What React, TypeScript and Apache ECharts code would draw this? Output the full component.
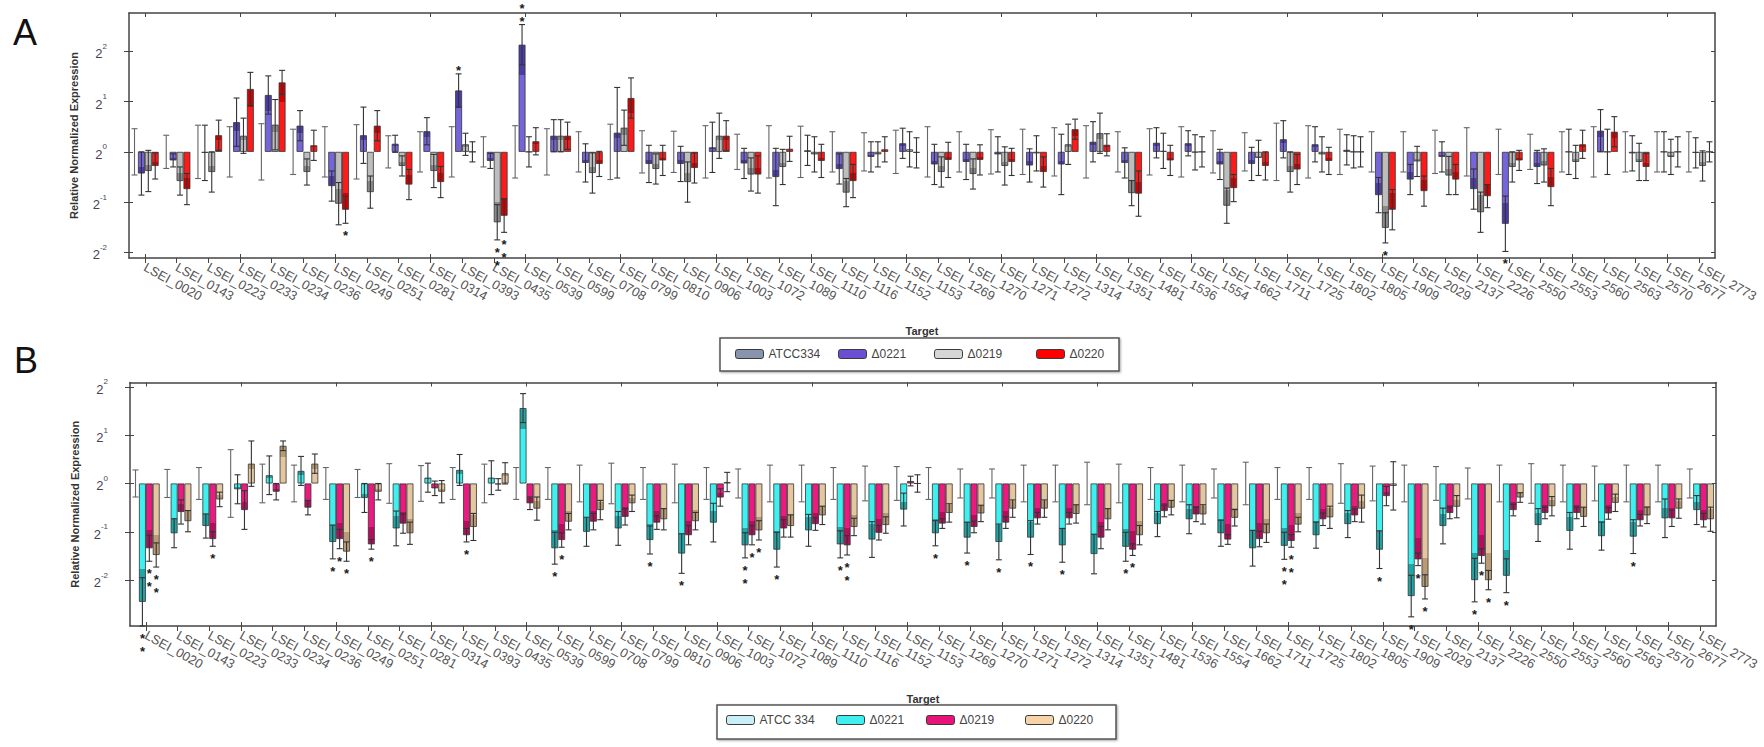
import { useEffect, useRef } from "react";
import * as echarts from "echarts";

const categories = [
  "LSEI_0020", "LSEI_0143", "LSEI_0223", "LSEI_0233", "LSEI_0234", "LSEI_0236", "LSEI_0249", "LSEI_0251", "LSEI_0281", "LSEI_0314",
  "LSEI_0393", "LSEI_0435", "LSEI_0539", "LSEI_0599", "LSEI_0708", "LSEI_0799", "LSEI_0810", "LSEI_0906", "LSEI_1003", "LSEI_1072",
  "LSEI_1089", "LSEI_1110", "LSEI_1116", "LSEI_1152", "LSEI_1153", "LSEI_1269", "LSEI_1270", "LSEI_1271", "LSEI_1272", "LSEI_1314",
  "LSEI_1351", "LSEI_1481", "LSEI_1536", "LSEI_1554", "LSEI_1662", "LSEI_1711", "LSEI_1725", "LSEI_1802", "LSEI_1805", "LSEI_1909",
  "LSEI_2029", "LSEI_2137", "LSEI_2226", "LSEI_2550", "LSEI_2553", "LSEI_2560", "LSEI_2563", "LSEI_2570", "LSEI_2677", "LSEI_2773",
];

const yTickValues = [-2, -1, 0, 1, 2];

// ---------- Panel A (log2 relative normalized expression) ----------
const namesA = ["ATCC334", "Δ0221", "Δ0219", "Δ0220"];
const aATCC334 = [
  0, 0, 0, 0, 0, 0, 0, 0, 0, 0, 0, 0, 0, 0, 0, 0, 0, 0, 0, 0, 0, 0, 0, 0, 0,
  0, 0, 0, 0, 0, 0, 0, 0, 0, 0, 0, 0, 0, 0, 0, 0, 0, 0, 0, 0, 0, 0, 0, 0, 0,
];
const aATCC334Err = [
  0.46, 0.33, 0.53, 0.5, 0.56, 0.45, 0.5, 0.54, 0.32, 0.4,
  0.5, 0.3, 0.52, 0.46, 0.4, 0.55, 0.42, 0.41, 0.52, 0.35,
  0.52, 0.51, 0.4, 0.38, 0.43, 0.5, 0.4, 0.44, 0.45, 0.48,
  0.52, 0.4, 0.46, 0.5, 0.42, 0.38, 0.57, 0.52, 0.45, 0.4,
  0.4, 0.43, 0.48, 0.45, 0.35, 0.4, 0.5, 0.4, 0.4, 0.4,
];
const aD0221 = [
  -0.43, -0.17, -0.02, 0.59, 1.13, 0.52, -0.68, 0.33, 0.16, 0.41,
  1.22, -0.18, 2.13, 0.32, -0.22, 0.38, -0.24, -0.24, 0.09, -0.23,
  -0.5, 0.03, -0.34, -0.1, 0.17, -0.25, -0.2, -0.05, -0.27, -0.25,
  0.2, -0.22, 0.18, 0.17, -0.25, -0.24, 0.25, 0.15, 0.04, -0.86,
  -0.55, -0.1, -0.74, -1.43, -0.3, 0, 0.42, -0.03, 0, -0.02,
];
const aD0221Err = [
  0.43, 0.13, 0.55, 0.48, 0.38, 0.3, 0.3, 0.56, 0.17, 0.27,
  0.33, 0.15, 0.4, 0.32, 0.38, 0.9, 0.37, 0.35, 0.5, 0.3,
  0.57, 0.3, 0.3, 0.3, 0.3, 0.4, 0.35, 0.35, 0.33, 0.6,
  0.4, 0.3, 0.3, 0.25, 0.3, 0.33, 0.37, 0.35, 0.3, 0.35,
  0.3, 0.3, 0.4, 0.55, 0.33, 0.45, 0.42, 0.35, 0.4, 0.3,
];
const aD0219 = [
  -0.38, -0.58, -0.4, 0.32, 0.54, -0.4, -1.03, -0.8, -0.28, -0.38,
  0.15, -1.4, 0, 0.32, -0.42, 0.48, -0.34, -0.6, 0.32, -0.45,
  -0.3, -0.05, -0.81, -0.05, 0.05, -0.4, -0.44, -0.28, -0.03, 0.15,
  0.37, -0.82, 0.02, -0.01, -1.07, -0.12, -0.4, -0.05, 0, -1.51,
  -0.19, -0.47, -1.2, -0.3, -0.27, -0.2, 0, -0.2, -0.1, -0.28,
];
const aD0219Err = [
  0.41, 0.28, 0.4, 0.35, 0.5, 0.26, 0.42, 0.32, 0.2, 0.33,
  0.22, 0.35, 0.3, 0.32, 0.4, 0.35, 0.3, 0.4, 0.45, 0.33,
  0.35, 0.35, 0.28, 0.25, 0.35, 0.3, 0.3, 0.38, 0.35, 0.4,
  0.4, 0.25, 0.35, 0.35, 0.35, 0.35, 0.4, 0.35, 0.32, 0.3,
  0.3, 0.38, 0.4, 0.3, 0.33, 0.33, 0.45, 0.37, 0.35, 0.3,
];
const aD0220 = [
  -0.28, -0.74, 0.33, 1.25, 1.38, 0.13, -1.15, 0.52, -0.65, -0.6,
  0, -1.27, 0.21, 0.32, -0.24, 1.07, -0.17, -0.32, 0.32, -0.45,
  0.06, -0.18, -0.58, 0.05, -0.02, -0.16, -0.16, -0.2, -0.4, 0.45,
  0.14, -0.83, -0.17, 0, -0.72, -0.28, -0.35, -0.18, 0, -1.15,
  -0.78, -0.55, -0.88, -0.17, -0.7, 0.15, 0.4, -0.3, 0, 0,
];
const aD0220Err = [
  0.26, 0.31, 0.3, 0.33, 0.24, 0.3, 0.27, 0.3, 0.3, 0.31,
  0.2, 0.33, 0.27, 0.27, 0.25, 0.4, 0.3, 0.3, 0.3, 0.37,
  0.25, 0.33, 0.33, 0.25, 0.3, 0.35, 0.3, 0.27, 0.3, 0.2,
  0.22, 0.45, 0.3, 0.3, 0.27, 0.28, 0.3, 0.27, 0.3, 0.4,
  0.3, 0.3, 0.23, 0.2, 0.37, 0.28, 0.3, 0.27, 0.3, 0.2,
];
// [category index, series slot, number of asterisks]
const starsA = [
  [6, 3, 1], [10, 1, 1], [11, 2, 2], [11, 3, 2], [12, 1, 2], [39, 2, 1], [43, 1, 1],
];

// ---------- Panel B ----------
const namesB = ["ATCC 334", "Δ0221", "Δ0219", "Δ0220"];
const bATCC334 = [
  0, 0, 0, 0, 0, 0, 0, 0, 0, 0, 0, 0, 0, 0, 0, 0, 0, 0, 0, 0, 0, 0, 0, 0, 0,
  0, 0, 0, 0, 0, 0, 0, 0, 0, 0, 0, 0, 0, 0, 0, 0, 0, 0, 0, 0, 0, 0, 0, 0, 0,
];
const bATCC334Err = [
  0.28, 0.29, 0.33, 0.7, 0.4, 0.38, 0.33, 0.29, 0.41, 0.37,
  0.33, 0.4, 0.33, 0.33, 0.38, 0.42, 0.33, 0.4, 0.33, 0.3,
  0.38, 0.38, 0.33, 0.36, 0.35, 0.33, 0.3, 0.3, 0.38, 0.38,
  0.44, 0.4, 0.33, 0.38, 0.3, 0.44, 0.33, 0.33, 0.41, 0.36,
  0.38, 0.35, 0.32, 0.38, 0.41, 0.38, 0.36, 0.38, 0.38, 0.3,
];
const bD0221 = [
  -2.45, -1.03, -0.88, -0.12, 0.17, 0.26, -1.21, -0.3, -0.93, 0.12,
  0.28, 0.12, 1.56, -1.34, -1.0, -0.93, -1.17, -1.45, -0.81, -1.28,
  -1.37, -0.97, -1.26, -1.16, -0.54, -1.03, -1.12, -1.21, -1.12, -1.28,
  -1.46, -1.31, -0.84, -0.74, -1.03, -1.34, -1.29, -1.07, -0.84, -1.37,
  -2.33, -0.88, -2.0, -1.91, -0.86, -0.98, -1.09, -1.1, -0.72, -0.55,
];
const bD0221Err = [
  0.5, 0.3, 0.25, 0.3, 0.4, 0.3, 0.35, 0.3, 0.36, 0.3,
  0.32, 0.35, 0.3, 0.33, 0.3, 0.35, 0.29, 0.41, 0.4, 0.26,
  0.36, 0.33, 0.28, 0.37, 0.34, 0.26, 0.32, 0.37, 0.35, 0.35,
  0.41, 0.3, 0.26, 0.3, 0.27, 0.37, 0.28, 0.27, 0.28, 0.39,
  0.43, 0.37, 0.45, 0.35, 0.34, 0.38, 0.29, 0.35, 0.4, 0.3,
];
const bD0219 = [
  -1.34, -0.59, -1.15, -0.55, -0.17, -0.5, -1.15, -1.26, -0.83, -0.1,
  -1.07, -0.02, -0.41, -1.17, -0.79, -0.69, -0.81, -1.07, -0.29, -1.07,
  -0.93, -0.84, -1.28, -1.02, 0.05, -0.83, -0.9, -0.81, -0.72, -0.72,
  -1.12, -1.37, -0.57, -0.64, -1.16, -1.15, -1.19, -0.74, -0.66, -0.26,
  -1.57, -0.61, -1.5, -0.55, -0.61, -0.61, -0.62, -0.76, -0.72, -0.76,
];
const bD0219Err = [
  0.27, 0.25, 0.15, 0.4, 0.17, 0.15, 0.2, 0.1, 0.2, 0.15,
  0.14, 0.12, 0.13, 0.15, 0.17, 0.17, 0.14, 0.2, 0.18, 0.2,
  0.18, 0.13, 0.2, 0.15, 0.1, 0.1, 0.12, 0.12, 0.12, 0.12,
  0.23, 0.12, 0.12, 0.15, 0.1, 0.16, 0.13, 0.13, 0.13, 0.2,
  0.13, 0.12, 0.15, 0.12, 0.12, 0.12, 0.12, 0.12, 0.17, 0.14,
];
const bD0220 = [
  -1.48, -0.78, -0.33, 0.41, 0.78, 0.41, -1.41, -0.17, -1.03, -0.17,
  -0.9, 0.21, -0.52, -0.79, -0.55, -0.41, -0.74, -0.78, 0.03, -0.97,
  -0.88, -0.66, -0.9, -0.86, 0, -0.61, -0.62, -0.52, -0.52, -0.63,
  -0.74, -1.07, -0.5, -0.64, -0.71, -1.03, -0.85, -0.7, -0.52, -0.05,
  -2.14, -0.48, -2.0, -0.29, -0.47, -0.69, -0.4, -0.66, -0.52, -0.74,
];
const bD0220Err = [
  0.25, 0.22, 0.15, 0.47, 0.1, 0.2, 0.2, 0.17, 0.23, 0.23,
  0.28, 0.22, 0.24, 0.17, 0.2, 0.17, 0.22, 0.18, 0.2, 0.2,
  0.23, 0.19, 0.18, 0.17, 0.18, 0.19, 0.17, 0.18, 0.18, 0.19,
  0.22, 0.2, 0.15, 0.2, 0.17, 0.19, 0.15, 0.23, 0.28, 0.5,
  0.25, 0.23, 0.2, 0.1, 0.2, 0.2, 0.18, 0.17, 0.2, 0.25,
];
const starsB = [
  [0, 1, 2], [0, 2, 2], [0, 3, 2], [2, 2, 1], [6, 1, 1], [6, 2, 1], [6, 3, 1], [7, 2, 1],
  [10, 2, 1], [13, 1, 1], [13, 2, 1], [16, 1, 1], [17, 1, 1], [19, 1, 2], [19, 2, 1], [19, 3, 1],
  [20, 1, 1], [22, 1, 1], [22, 2, 2], [25, 1, 1], [26, 1, 1], [27, 1, 1], [28, 1, 1], [29, 1, 1],
  [31, 1, 1], [31, 2, 1], [36, 1, 2], [36, 2, 2], [39, 1, 1], [40, 1, 1], [40, 2, 1], [40, 3, 1],
  [42, 1, 1], [42, 2, 1], [42, 3, 1], [43, 1, 1], [47, 1, 1],
];

// ---------- styling ----------
const FONT = "'Liberation Sans', Arial, Helvetica, sans-serif";
const BAR_W = 6.9;
const CAP = 3;
const DARK_FRAC = 0.28;
const STAR_SIZE = 13;

const panels = [
  {
    names: namesA,
    values: [aATCC334, aD0221, aD0219, aD0220],
    errs: [aATCC334Err, aD0221Err, aD0219Err, aD0220Err],
    legendColors: ["#8794ae", "#6a4fd2", "#d6d6d6", "#ff0000"],
    light: ["#8794ae", "#7565da", "#bdbdbd", "#ff1a1a"],
    dark: ["#8794ae", "#4b3cab", "#8a8a8a", "#d20000"],
    stars: starsA,
    grid: { left: 129, top: 13, width: 1586, height: 245 },
    yMin: -2.11,
    yMax: 2.76,
    legendLefts: [735, 838, 934, 1036],
    legendTop: 348,
    box: [720, 338, 399, 33],
  },
  {
    names: namesB,
    values: [bATCC334, bD0221, bD0219, bD0220],
    errs: [bATCC334Err, bD0221Err, bD0219Err, bD0220Err],
    legendColors: ["#c9eef7", "#40f0f0", "#e8127a", "#f7d3a8"],
    light: ["#c9eef7", "#3ff0f0", "#ec1a80", "#e4c6a0"],
    dark: ["#c9eef7", "#1fa6a6", "#b50d5e", "#b89a74"],
    stars: starsB,
    grid: { left: 130, top: 382.5, width: 1586, height: 243.5 },
    yMin: -2.95,
    yMax: 2.09,
    legendLefts: [726, 836, 926, 1025],
    legendTop: 714,
    box: [717, 705, 399, 34],
  },
];

function shaded(v: number, light: string, dark: string) {
  const f = DARK_FRAC;
  const colorStops =
    v >= 0
      ? [
          { offset: 0, color: dark },
          { offset: f, color: dark },
          { offset: f, color: light },
          { offset: 1, color: light },
        ]
      : [
          { offset: 0, color: light },
          { offset: 1 - f, color: light },
          { offset: 1 - f, color: dark },
          { offset: 1, color: dark },
        ];
  return { type: "linear", x: 0, y: 0, x2: 0, y2: 1, colorStops };
}

function buildOption() {
  const grid: any[] = [];
  const xAxis: any[] = [];
  const yAxis: any[] = [];
  const series: any[] = [];
  const legend: any[] = [];
  const graphic: any[] = [];
  const tickLine = { color: "#444", width: 1 };

  panels.forEach((p, pi) => {
    grid.push({ ...p.grid, containLabel: false });
    const axisLine = { show: true, onZero: false, lineStyle: { color: "#444", width: 1.5 } };
    // bottom axis: labels + outside ticks
    xAxis.push({
      type: "category",
      gridIndex: pi,
      data: categories,
      position: "bottom",
      axisLine,
      axisTick: { show: true, alignWithLabel: true, length: 5, lineStyle: tickLine },
      axisLabel: {
        interval: 0,
        rotate: -29,
        margin: 8,
        fontSize: 13,
        color: "#555",
        fontFamily: FONT,
      },
      name: "Target",
      nameLocation: "middle",
      nameGap: 67,
      nameTextStyle: { fontFamily: FONT, fontSize: 11, fontWeight: "bold", color: "#333" },
      splitLine: { show: false },
    });
    // top axis: inside ticks only
    xAxis.push({
      type: "category",
      gridIndex: pi,
      data: categories,
      position: "top",
      axisLine,
      axisTick: { show: true, inside: true, alignWithLabel: true, length: 4, lineStyle: tickLine },
      axisLabel: { show: false },
      splitLine: { show: false },
    });
    // bottom axis again: inside half of the crossing ticks
    xAxis.push({
      type: "category",
      gridIndex: pi,
      data: categories,
      position: "bottom",
      axisLine: { show: false, onZero: false },
      axisTick: { show: true, inside: true, alignWithLabel: true, length: 4, lineStyle: tickLine },
      axisLabel: { show: false },
      splitLine: { show: false },
    });

    yAxis.push({
      type: "value",
      gridIndex: pi,
      min: p.yMin,
      max: p.yMax,
      position: "left",
      axisLine: { show: true, lineStyle: { color: "#444", width: 1.5 } },
      axisTick: { show: true, length: 5, customValues: yTickValues, lineStyle: tickLine },
      axisLabel: {
        customValues: yTickValues,
        margin: 22,
        formatter: (v: number) => `{b|2}{s|${Math.round(v)}}`,
        rich: {
          b: { fontSize: 13, color: "#445", fontFamily: FONT, lineHeight: 18, verticalAlign: "bottom" },
          s: { fontSize: 8, color: "#445", fontFamily: FONT, lineHeight: 18, verticalAlign: "top" },
        },
      },
      splitLine: { show: false },
      name: "Relative Normalized Expression",
      nameLocation: "middle",
      nameGap: 50,
      nameRotate: 90,
      nameTextStyle: { fontFamily: FONT, fontSize: 11, fontWeight: "bold", color: "#333" },
    });
    yAxis.push({
      type: "value",
      gridIndex: pi,
      min: p.yMin,
      max: p.yMax,
      position: "right",
      axisLine: { show: true, lineStyle: { color: "#444", width: 1.5 } },
      axisTick: { show: true, inside: true, length: 4, customValues: yTickValues, lineStyle: tickLine },
      axisLabel: { show: false },
      splitLine: { show: false },
    });
    yAxis.push({
      type: "value",
      gridIndex: pi,
      min: p.yMin,
      max: p.yMax,
      position: "left",
      axisLine: { show: false },
      axisTick: { show: true, inside: true, length: 4, customValues: yTickValues, lineStyle: tickLine },
      axisLabel: { show: false },
      splitLine: { show: false },
    });

    const xi = pi * 3;
    const yi = pi * 3;
    p.names.forEach((name, s) => {
      series.push({
        type: "bar",
        name,
        xAxisIndex: xi,
        yAxisIndex: yi,
        barWidth: BAR_W,
        barGap: "0%",
        z: 2,
        emphasis: { disabled: true },
        itemStyle: {
          color: p.legendColors[s],
          borderColor: "#333",
          borderWidth: s === 0 ? 0 : 0.8,
        },
        data: p.values[s].map((v) => ({ value: v, itemStyle: { color: shaded(v, p.light[s], p.dark[s]) } })),
      });
    });

    const errRows: number[][] = [];
    p.values.forEach((vals, s) => {
      vals.forEach((v, i) => {
        errRows.push([i, v - p.errs[s][i], v + p.errs[s][i], s]);
      });
    });
    series.push({
      type: "custom",
      name: "err" + pi,
      xAxisIndex: xi,
      yAxisIndex: yi,
      z: 5,
      silent: true,
      encode: { x: 0, y: [1, 2] },
      data: errRows,
      renderItem: (_params: any, api: any) => {
        const cat = api.value(0);
        const lo = api.value(1);
        const hi = api.value(2);
        const s = api.value(3);
        const x = api.coord([cat, 0])[0] + (s - 1.5) * BAR_W;
        const y1 = api.coord([cat, lo])[1];
        const y2 = api.coord([cat, hi])[1];
        const style = { stroke: s === 0 ? "#666" : "#333", lineWidth: 1.1 };
        return {
          type: "group",
          children: [
            { type: "line", shape: { x1: x, y1, x2: x, y2 }, style },
            { type: "line", shape: { x1: x - CAP, y1, x2: x + CAP, y2: y1 }, style },
            { type: "line", shape: { x1: x - CAP, y1: y2, x2: x + CAP, y2 }, style },
          ],
        };
      },
    });

    // one row per asterisk; k is its position in the stack
    const starRows: number[][] = [];
    p.stars.forEach(([cat, s, n]) => {
      const v = p.values[s][cat];
      const dir = v < 0 ? -1 : 1;
      for (let k = 0; k < n; k++) {
        starRows.push([cat, v + dir * p.errs[s][cat], s, k, dir]);
      }
    });
    series.push({
      type: "custom",
      name: "stars" + pi,
      xAxisIndex: xi,
      yAxisIndex: yi,
      z: 6,
      silent: true,
      clip: false,
      encode: { x: 0, y: 1 },
      data: starRows,
      renderItem: (_params: any, api: any) => {
        const cat = api.value(0);
        const anchor = api.value(1);
        const s = api.value(2);
        const k = api.value(3);
        const dir = api.value(4);
        const x = api.coord([cat, 0])[0] + (s - 1.5) * BAR_W;
        const y0 = api.coord([cat, anchor])[1];
        const y = dir < 0 ? y0 + 6 + k * STAR_SIZE : y0 + 3 - k * STAR_SIZE;
        return {
          type: "text",
          x,
          y,
          style: {
            text: "*",
            fill: "#1a1a1a",
            font: `bold ${STAR_SIZE}px ${FONT}`,
            align: "center",
            verticalAlign: dir < 0 ? "top" : "bottom",
          },
        };
      },
    });

    p.names.forEach((name, s) => {
      legend.push({
        left: p.legendLefts[s],
        top: p.legendTop,
        padding: 0,
        itemGap: 0,
        icon: "roundRect",
        itemWidth: 28,
        itemHeight: 9,
        selectedMode: false,
        textStyle: { fontFamily: FONT, fontSize: 12, color: "#444" },
        data: [
          {
            name,
            itemStyle: { color: p.legendColors[s], borderColor: "#3a3a3a", borderWidth: 1 },
          },
        ],
      });
    });

    const [bx, by, bw, bh] = p.box;
    graphic.push({
      type: "rect",
      z: 0,
      shape: { x: bx, y: by, width: bw, height: bh },
      style: {
        fill: "#fff",
        stroke: "#555",
        lineWidth: 1.5,
        shadowBlur: 2,
        shadowOffsetX: 1,
        shadowOffsetY: 1,
        shadowColor: "rgba(0,0,0,0.35)",
      },
    });
  });

  graphic.push({
    type: "text",
    x: 13,
    y: 14,
    style: { text: "A", font: `36px ${FONT}`, fill: "#111", verticalAlign: "top" },
  });
  graphic.push({
    type: "text",
    x: 14,
    y: 342,
    style: { text: "B", font: `36px ${FONT}`, fill: "#111", verticalAlign: "top" },
  });

  return {
    animation: false,
    backgroundColor: "#fff",
    textStyle: { fontFamily: FONT },
    grid,
    xAxis,
    yAxis,
    series,
    legend,
    graphic,
  };
}

export default function App() {
  const ref = useRef<HTMLDivElement>(null);
  useEffect(() => {
    if (!ref.current) return;
    const chart = echarts.init(ref.current, null, { renderer: "svg" });
    chart.setOption(buildOption() as any);
    return () => chart.dispose();
  }, []);
  return (
    <div
      ref={ref}
      style={{ position: "fixed", left: 0, top: 0, width: 1764, height: 747, background: "#fff" }}
    />
  );
}
